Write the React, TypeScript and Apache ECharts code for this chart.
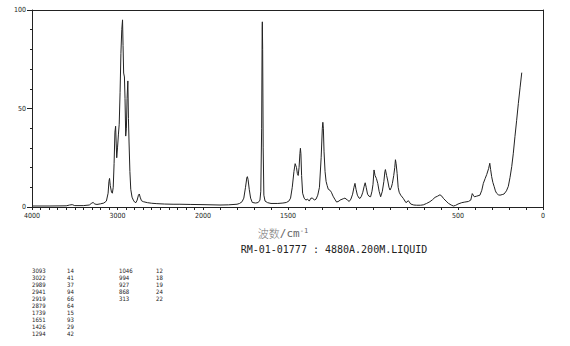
import React, { useEffect, useRef } from 'react';
import * as echarts from 'echarts';

// Raman spectrum, 4000-2000 cm-1 panel (compressed scale)
const highRange: [number, number][] = [
  [4000, 0.5], [3800, 0.5], [3600, 0.6], [3560, 1.0], [3530, 1.2], [3500, 0.7], [3400, 0.7],
  [3330, 1.0], [3300, 2.0], [3285, 2.3], [3265, 1.5], [3240, 1.3], [3200, 1.6], [3160, 2.0],
  [3130, 3.0], [3110, 7], [3100, 13], [3093, 14.5], [3085, 11], [3070, 7.5], [3060, 7],
  [3050, 10], [3040, 22], [3030, 38], [3022, 41], [3015, 32], [3009, 25], [3000, 30],
  [2989, 37], [2980, 42], [2970, 58], [2960, 78], [2950, 90], [2941, 95], [2935, 82],
  [2928, 68], [2919, 66], [2912, 55], [2904, 36], [2896, 40], [2888, 55], [2879, 64],
  [2872, 45], [2865, 33], [2855, 18], [2845, 9], [2830, 5], [2815, 3.5], [2800, 2.5],
  [2785, 2.2], [2770, 3.5], [2755, 6], [2745, 6.6], [2735, 5], [2720, 3.2], [2698, 2.7],
  [2650, 2.2], [2600, 1.9], [2540, 1.7], [2450, 1.5], [2350, 1.4], [2270, 1.4], [2150, 1.3],
  [2000, 1.2],
];

// Raman spectrum, 2000-125 cm-1 panel (expanded scale)
const lowRange: [number, number][] = [
  [2000, 1.2], [1900, 1.0], [1850, 1.1], [1800, 1.4], [1785, 1.8], [1770, 2.7], [1760, 4.5],
  [1750, 10], [1742, 15], [1739, 15.4], [1735, 14], [1728, 9], [1720, 4.5], [1710, 2.3],
  [1690, 2.0], [1675, 2.3], [1665, 3.5], [1660, 8], [1655, 40], [1652, 90], [1651, 94],
  [1649, 80], [1646, 30], [1642, 6], [1635, 3], [1620, 2.2], [1600, 1.8], [1560, 1.8],
  [1530, 2.0], [1510, 2.3], [1495, 3], [1485, 4.5], [1475, 10], [1465, 18], [1458, 22],
  [1455, 22.2], [1450, 20], [1445, 17], [1440, 16], [1435, 20], [1430, 27], [1427, 29.8],
  [1424, 27], [1420, 16], [1414, 7], [1405, 4.5], [1395, 3.5], [1385, 4], [1375, 3],
  [1365, 4.5], [1355, 4.5], [1345, 3.5], [1335, 4], [1325, 6], [1315, 10], [1305, 25],
  [1298, 40], [1295, 43], [1292, 40], [1288, 28], [1282, 18], [1276, 13], [1270, 11],
  [1263, 9], [1253, 8.5], [1245, 7.5], [1235, 5.5], [1225, 4], [1214, 2.5], [1200, 3],
  [1194, 3.5], [1175, 4.2], [1165, 4.5], [1150, 3.5], [1140, 2.8], [1130, 4], [1120, 6.5],
  [1112, 10], [1106, 12], [1100, 9], [1092, 6], [1082, 4.5], [1076, 4.4], [1068, 5.5],
  [1060, 7.5], [1052, 10.5], [1046, 12.3], [1040, 10], [1032, 6.5], [1024, 5.5], [1014, 5.2],
  [1006, 8], [1000, 11.5], [994, 18.8], [988, 16], [980, 14.5], [972, 12], [964, 8],
  [955, 5.2], [945, 8], [936, 13], [930, 18], [927, 19], [920, 16], [914, 13.7], [906, 10],
  [900, 8.6], [892, 10], [886, 12], [878, 16], [872, 20], [868, 24], [864, 22], [858, 17],
  [852, 10], [846, 7.5], [837, 6], [822, 4.4], [806, 2.2], [792, 3.2], [778, 1.5], [760, 1.0],
  [743, 0.9], [720, 0.9], [704, 1.1], [685, 1.8], [665, 2.7], [650, 3.7], [635, 4.9],
  [620, 5.5], [606, 6.2], [595, 5.5], [586, 4.4], [570, 3.0], [557, 1.9], [540, 1.0],
  [527, 0.5], [515, 0.8], [500, 1.5], [478, 2.2], [460, 2.5], [439, 2.8], [425, 3.5],
  [416, 6.8], [410, 6], [404, 5.2], [390, 5.5], [371, 6], [360, 8.5], [351, 12], [340, 14.5],
  [331, 16.5], [320, 19.5], [313, 22.2], [308, 19], [302, 15.4], [295, 12.5], [287, 10.3],
  [280, 8.2], [273, 7], [263, 6.2], [253, 6], [240, 6.3], [229, 6.6], [215, 8.2], [204, 10.5],
  [194, 15], [184, 20.5], [175, 27], [165, 35.7], [155, 44], [145, 52.6], [135, 60.5],
  [125, 68.2],
];

const highTickLabels = [4000, 3000, 2000];
const lowTickLabels = [1500, 500, 0];
const yTickLabels = [0, 50, 100];

const peakWavenumbers = [3093, 3022, 2989, 2941, 2919, 2879, 1739, 1651, 1426, 1294, 1046, 994, 927, 868, 313];
const peakIntensities = [14, 41, 37, 94, 66, 64, 15, 93, 29, 42, 12, 18, 19, 24, 22];

const axisTitleMain = '波数';
const axisTitleUnit = '/cm';
const axisTitleSup = '-1';
const sampleCaption = 'RM-01-01777 : 4880A.200M.LIQUID';

const smallFont = "'Liberation Sans Narrow', 'DejaVu Sans Condensed', 'DejaVu Sans Mono', monospace";
const monoFont = "'DejaVu Sans Mono', 'Liberation Mono', monospace";
const ink = '#222';

export default function App() {
  const ref = useRef<HTMLDivElement>(null);

  useEffect(() => {
    if (!ref.current) return;
    const chart = echarts.init(ref.current, undefined, { renderer: 'svg' });

    const axisLine = { show: true, lineStyle: { color: ink, width: 1 } };
    const xLabel = (labels: number[]) => ({
      show: true,
      fontSize: 7,
      color: ink,
      fontFamily: smallFont,
      margin: 5,
      formatter: (v: number) => (labels.includes(v) ? String(v) : ''),
    });

    const tableGraphics: any[] = [];
    peakWavenumbers.forEach((w, i) => {
      const col = i < 10 ? 0 : 1;
      const row = i % 10;
      const y = 270 + row * 7;
      tableGraphics.push({
        type: 'text',
        x: 32 + col * 87,
        y,
        style: { text: String(w), fill: ink, font: `6px ${smallFont}`, verticalAlign: 'middle', align: 'left' },
      });
      tableGraphics.push({
        type: 'text',
        x: 67 + col * 89,
        y,
        style: { text: String(peakIntensities[i]), fill: ink, font: `6px ${smallFont}`, verticalAlign: 'middle', align: 'left' },
      });
    });

    chart.setOption({
      animation: false,
      backgroundColor: '#fff',
      grid: [
        { left: 32, top: 10, width: 171, bottom: 139 },
        { left: 203, top: 10, right: 27, bottom: 139 },
      ],
      xAxis: [
        {
          gridIndex: 0, type: 'value', min: 2000, max: 4000, interval: 100, inverse: true, position: 'bottom',
          axisLine, axisTick: { show: true, length: 3, lineStyle: { color: ink } },
          axisLabel: xLabel(highTickLabels), splitLine: { show: false },
        },
        {
          gridIndex: 0, type: 'value', min: 2000, max: 4000, inverse: true, position: 'top',
          axisLine, axisTick: { show: false }, axisLabel: { show: false }, splitLine: { show: false },
        },
        {
          gridIndex: 1, type: 'value', min: 0, max: 2000, interval: 100, inverse: true, position: 'bottom',
          axisLine, axisTick: { show: true, length: 3, lineStyle: { color: ink } },
          axisLabel: xLabel(lowTickLabels), splitLine: { show: false },
        },
        {
          gridIndex: 1, type: 'value', min: 0, max: 2000, inverse: true, position: 'top',
          axisLine, axisTick: { show: false }, axisLabel: { show: false }, splitLine: { show: false },
        },
      ],
      yAxis: [
        {
          gridIndex: 0, type: 'value', min: 0, max: 100, interval: 50, position: 'left',
          axisLine, axisTick: { show: true, length: 5, lineStyle: { color: ink } },
          minorTick: { show: true, splitNumber: 5, length: 2, lineStyle: { color: ink } },
          axisLabel: {
            fontSize: 7, color: ink, fontFamily: smallFont, margin: 6,
            formatter: (v: number) => (yTickLabels.includes(v) ? String(v) : ''),
          },
          splitLine: { show: false },
        },
        {
          gridIndex: 1, type: 'value', min: 0, max: 100, position: 'right',
          axisLine, axisTick: { show: false }, axisLabel: { show: false }, splitLine: { show: false },
        },
      ],
      series: [
        {
          type: 'line', xAxisIndex: 0, yAxisIndex: 0, data: highRange, showSymbol: false,
          lineStyle: { color: ink, width: 1 }, silent: true,
        },
        {
          type: 'line', xAxisIndex: 2, yAxisIndex: 1, data: lowRange, showSymbol: false,
          lineStyle: { color: ink, width: 1 }, silent: true,
        },
      ],
      graphic: [
        {
          type: 'text',
          x: 283,
          y: 233,
          style: {
            text: `{a|${axisTitleMain}}{b|${axisTitleUnit}}{c|${axisTitleSup}}`,
            align: 'center',
            verticalAlign: 'middle',
            rich: {
              a: { fontFamily: "'Noto Sans CJK SC', sans-serif", fontSize: 11, fill: '#777', fontWeight: 300, lineHeight: 12 },
              b: { fontFamily: monoFont, fontSize: 11, fill: '#666', lineHeight: 12 },
              c: { fontFamily: monoFont, fontSize: 7, fill: '#666', verticalAlign: 'top', lineHeight: 12 },
            },
          },
        },
        {
          type: 'text',
          x: 334,
          y: 249,
          style: { text: sampleCaption, fill: ink, font: `10px ${monoFont}`, align: 'center', verticalAlign: 'middle' },
        },
        ...tableGraphics,
      ],
    });

    return () => chart.dispose();
  }, []);

  return <div ref={ref} style={{ position: 'fixed', left: 0, top: 0, width: 570, height: 346, background: '#fff' }} />;
}
